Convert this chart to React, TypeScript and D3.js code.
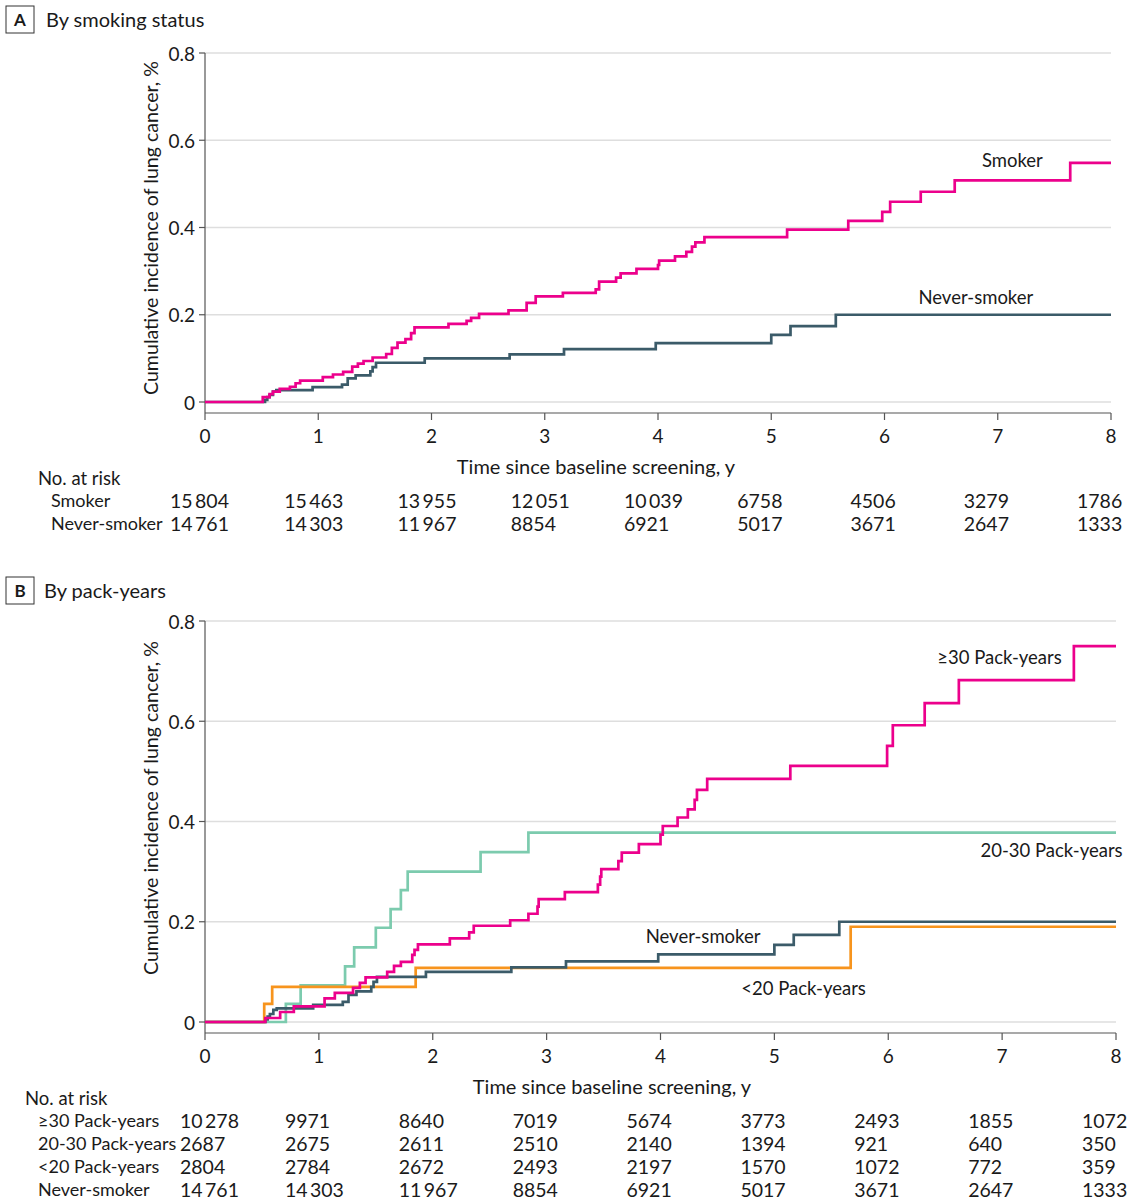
import * as d3 from "d3";

// x ticks (years) and y ticks (%)
const yearTicks = [0, 1, 2, 3, 4, 5, 6, 7, 8];
const incidenceTicks = [0, 0.2, 0.4, 0.6, 0.8];

// step events: [years, cumulative incidence %]
const smoker: [number, number][] = [
  [0.51, 0.011], [0.57, 0.018], [0.6, 0.024], [0.66, 0.03], [0.75, 0.035], [0.8, 0.043],
  [0.84, 0.049], [1.04, 0.057], [1.13, 0.063], [1.22, 0.069], [1.3, 0.081], [1.35, 0.088],
  [1.4, 0.094], [1.48, 0.102], [1.6, 0.11], [1.65, 0.124], [1.7, 0.136], [1.77, 0.144],
  [1.82, 0.158], [1.85, 0.171], [2.15, 0.179], [2.31, 0.186], [2.35, 0.193], [2.42, 0.202],
  [2.68, 0.21], [2.84, 0.227], [2.92, 0.242], [3.16, 0.25], [3.45, 0.258], [3.48, 0.276],
  [3.63, 0.285], [3.67, 0.295], [3.81, 0.305], [4.0, 0.314], [4.01, 0.324], [4.15, 0.334],
  [4.25, 0.344], [4.3, 0.356], [4.33, 0.366], [4.41, 0.378], [5.14, 0.395], [5.68, 0.415],
  [5.98, 0.436], [6.05, 0.459], [6.32, 0.482], [6.62, 0.508], [7.64, 0.548],
];

const neverSmoker: [number, number][] = [
  [0.53, 0.005], [0.55, 0.011], [0.57, 0.016], [0.6, 0.024], [0.63, 0.027], [0.95, 0.034],
  [1.21, 0.04], [1.26, 0.054], [1.33, 0.061], [1.46, 0.07], [1.48, 0.08], [1.51, 0.09],
  [1.94, 0.1], [2.69, 0.109], [3.17, 0.121], [3.98, 0.135], [5.0, 0.154], [5.17, 0.174],
  [5.57, 0.2],
];

const pack30: [number, number][] = [
  [0.53, 0.008], [0.66, 0.02], [0.78, 0.031], [1.05, 0.047], [1.14, 0.058], [1.3, 0.068],
  [1.36, 0.078], [1.41, 0.089], [1.6, 0.1], [1.66, 0.112], [1.72, 0.12], [1.82, 0.134],
  [1.84, 0.144], [1.87, 0.155], [2.15, 0.167], [2.32, 0.179], [2.36, 0.192], [2.68, 0.203],
  [2.84, 0.216], [2.92, 0.23], [2.93, 0.245], [3.16, 0.259], [3.45, 0.274], [3.47, 0.29],
  [3.48, 0.305], [3.63, 0.321], [3.66, 0.338], [3.81, 0.355], [4.0, 0.374], [4.02, 0.391],
  [4.15, 0.408], [4.24, 0.424], [4.3, 0.443], [4.32, 0.463], [4.41, 0.485], [5.14, 0.511],
  [5.99, 0.551], [6.04, 0.592], [6.32, 0.636], [6.62, 0.682], [7.63, 0.75],
];

const pack2030: [number, number][] = [
  [0.71, 0.036], [0.84, 0.073], [1.23, 0.111], [1.31, 0.149], [1.5, 0.188], [1.63, 0.225],
  [1.72, 0.263], [1.78, 0.3], [2.42, 0.339], [2.84, 0.378],
];

const packLt20: [number, number][] = [
  [0.52, 0.036], [0.59, 0.07], [1.85, 0.108], [5.67, 0.19],
];

// numbers at risk at years 0..8
const riskSmoker = [15804, 15463, 13955, 12051, 10039, 6758, 4506, 3279, 1786];
const riskNeverSmoker = [14761, 14303, 11967, 8854, 6921, 5017, 3671, 2647, 1333];
const risk30 = [10278, 9971, 8640, 7019, 5674, 3773, 2493, 1855, 1072];
const risk2030 = [2687, 2675, 2611, 2510, 2140, 1394, 921, 640, 350];
const riskLt20 = [2804, 2784, 2672, 2493, 2197, 1570, 1072, 772, 359];

const PINK = "#ec008c";
const TEAL = "#3b5b69";
const MINT = "#7ccbae";
const ORANGE = "#f7941d";
const FONT = "Lato, 'Open Sans', sans-serif";

const fmt = (n: number) =>
  n >= 10000 ? String(n).replace(/(\d{2})(\d{3})$/, "$1\u2009$2") : String(n);

type Series = { data: [number, number][]; color: string };
type Label = { text: string; t: number; v: number };
type RiskRow = { name: string; values: number[] };

type PanelProps = {
  letter: string;
  title: string;
  titleY: number;
  titleX: number;
  top: number;
  zero: number;
  right: number;
  series: Series[];
  labels: Label[];
  rows: RiskRow[];
  axisTitleX: number;
  yLabelY: number;
  riskHeadX: number;
  riskNameX: number;
  firstColX: number;
};

const Panel = (p: PanelProps) => {
  const left = 205;
  const x = d3.scaleLinear().domain([0, 8]).range([left, p.right]);
  const y = d3.scaleLinear().domain([0, 0.8]).range([p.zero, p.top]);
  const line = d3
    .line<[number, number]>()
    .x((d) => x(d[0]))
    .y((d) => y(d[1]))
    .curve(d3.curveStepAfter);
  const axisY = p.zero + 11;

  return (
    <g fontFamily={FONT} fill="#1a1a1a">
      <rect x={6} y={p.titleY - 13} width={28} height={27} fill="none" stroke="#333" strokeWidth={1} />
      <text x={20} y={p.titleY} textAnchor="middle" dominantBaseline="central" fontWeight="bold" fontSize={17}>
        {p.letter}
      </text>
      <text x={p.titleX} y={p.titleY} dominantBaseline="central" fontSize={20}>
        {p.title}
      </text>

      {incidenceTicks.map((v) => (
        <g key={v}>
          <line x1={left} x2={p.right} y1={y(v)} y2={y(v)} stroke="#dedede" strokeWidth={1.5} />
          <line x1={left - 6} x2={left} y1={y(v)} y2={y(v)} stroke="#555" strokeWidth={1.2} />
          <text x={left - 10} y={y(v)} textAnchor="end" dominantBaseline="central" fontSize={19}>
            {v === 0 ? "0" : v.toFixed(1)}
          </text>
        </g>
      ))}
      <line x1={left} x2={left} y1={p.top} y2={axisY} stroke="#555" strokeWidth={1.2} />
      <line x1={left} x2={p.right} y1={axisY} y2={axisY} stroke="#555" strokeWidth={1.2} />
      {yearTicks.map((t) => (
        <g key={t}>
          <line x1={x(t)} x2={x(t)} y1={axisY} y2={axisY + 7} stroke="#555" strokeWidth={1.2} />
          <text x={x(t)} y={p.zero + 33} textAnchor="middle" dominantBaseline="central" fontSize={19}>
            {t}
          </text>
        </g>
      ))}
      <text x={p.axisTitleX} y={p.zero + 64} textAnchor="middle" dominantBaseline="central" fontSize={20}>
        Time since baseline screening, y
      </text>
      <text
        transform={`translate(150,${p.yLabelY}) rotate(-90)`}
        textAnchor="middle"
        dominantBaseline="central"
        fontSize={19.6}
      >
        Cumulative incidence of lung cancer, %
      </text>

      {p.series.map((s, i) => (
        <path
          key={i}
          d={line([[0, 0], ...s.data, [8, s.data[s.data.length - 1][1]]]) || ""}
          fill="none"
          stroke={s.color}
          strokeWidth={2.7}
        />
      ))}
      {p.labels.map((l) => (
        <text key={l.text} x={x(l.t)} y={y(l.v)} dominantBaseline="central" fontSize={18.5}>
          {l.text}
        </text>
      ))}

      <text x={p.riskHeadX} y={p.zero + 76} dominantBaseline="central" fontSize={18.5}>
        No. at risk
      </text>
      {p.rows.map((r, i) => (
        <g key={r.name}>
          <text x={p.riskNameX} y={p.zero + 98 + i * 23} dominantBaseline="central" fontSize={18}>
            {r.name}
          </text>
          {r.values.map((n, j) => (
            <text
              key={j}
              x={j === 0 ? p.firstColX : x(yearTicks[j]) - 34}
              y={p.zero + 98 + i * 23}
              dominantBaseline="central"
              fontSize={19.5}
            >
              {fmt(n)}
            </text>
          ))}
        </g>
      ))}
    </g>
  );
};

export default function App() {
  return (
    <svg width={1139} height={1200} style={{ position: "absolute", left: 0, top: 0, background: "#fff" }}>
      <Panel
        letter="A"
        title="By smoking status"
        titleY={19}
        titleX={46}
        top={53}
        zero={402}
        right={1111}
        series={[
          { data: neverSmoker, color: TEAL },
          { data: smoker, color: PINK },
        ]}
        labels={[
          { text: "Smoker", t: 6.86, v: 0.555 },
          { text: "Never-smoker", t: 6.3, v: 0.241 },
        ]}
        rows={[
          { name: "Smoker", values: riskSmoker },
          { name: "Never-smoker", values: riskNeverSmoker },
        ]}
        axisTitleX={596}
        yLabelY={228}
        riskHeadX={38}
        riskNameX={51}
        firstColX={170}
      />
      <Panel
        letter="B"
        title="By pack-years"
        titleY={590}
        titleX={44}
        top={621}
        zero={1022}
        right={1116}
        series={[
          { data: pack2030, color: MINT },
          { data: packLt20, color: ORANGE },
          { data: neverSmoker, color: TEAL },
          { data: pack30, color: PINK },
        ]}
        labels={[
          { text: "≥30 Pack-years", t: 6.43, v: 0.728 },
          { text: "20-30 Pack-years", t: 6.81, v: 0.343 },
          { text: "Never-smoker", t: 3.87, v: 0.172 },
          { text: "<20 Pack-years", t: 4.71, v: 0.068 },
        ]}
        rows={[
          { name: "≥30 Pack-years", values: risk30 },
          { name: "20-30 Pack-years", values: risk2030 },
          { name: "<20 Pack-years", values: riskLt20 },
          { name: "Never-smoker", values: riskNeverSmoker },
        ]}
        axisTitleX={612}
        yLabelY={808}
        riskHeadX={25}
        riskNameX={38}
        firstColX={180}
      />
    </svg>
  );
}
